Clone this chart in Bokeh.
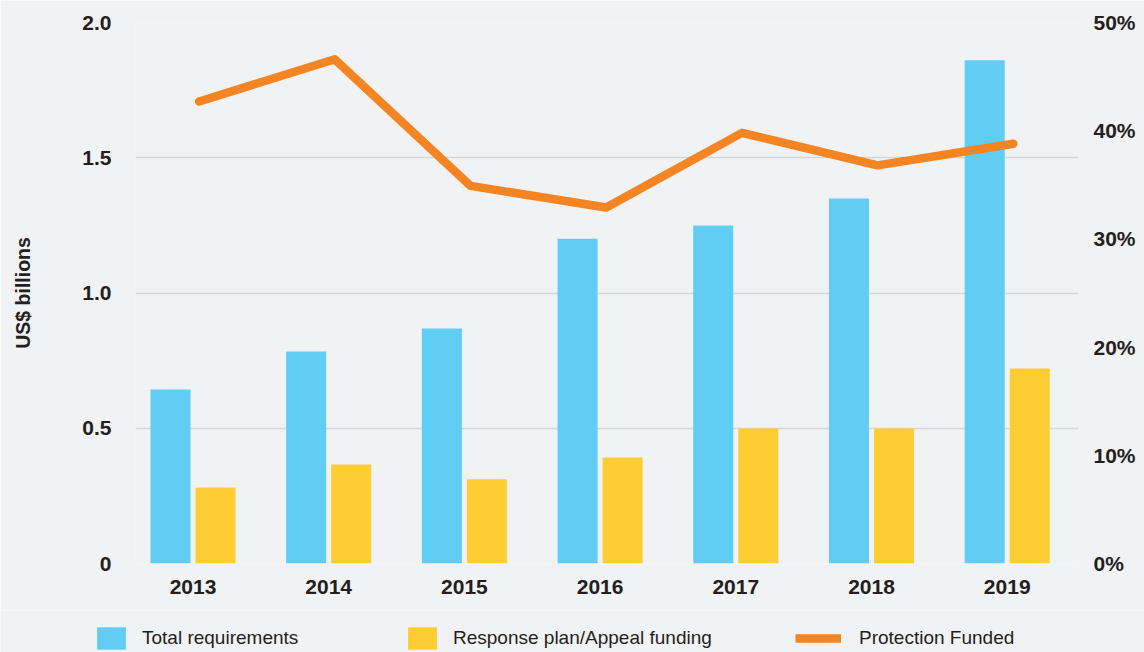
from bokeh.plotting import figure
from bokeh.layouts import column
from bokeh.models import (Range1d, LinearAxis, FixedTicker, PrintfTickFormatter,
                          Legend, LegendItem, ColumnDataSource)
from bokeh.transform import dodge
from bokeh.embed import file_html
from bokeh.resources import INLINE

# ---- data ----
years = ["2013", "2014", "2015", "2016", "2017", "2018", "2019"]
total_requirements = [0.643, 0.784, 0.869, 1.201, 1.250, 1.349, 1.860]
appeal_funding = [0.281, 0.366, 0.311, 0.392, 0.499, 0.499, 0.721]
protection_funded_pct = [42.7, 46.6, 34.9, 32.9, 39.8, 36.8, 38.8]
left_ticks = [0, 0.5, 1.0, 1.5, 2.0]
right_ticks = [0, 10, 20, 30, 40, 50]

# ---- style ----
BG = "#F1F2F4"
BLUE = "#62CDF4"
YELLOW = "#FECD33"
ORANGE = "#F58423"
TEXT = "#231F20"
GRID = "#D5D6D9"
FONT = "Liberation Sans"

src = ColumnDataSource(dict(
    idx=list(range(len(years))),
    total=total_requirements,
    funding=appeal_funding,
    pct=protection_funded_pct,
))

p = figure(width=1144, height=610,
           x_range=Range1d(-0.4237, 6.5254), y_range=Range1d(0, 2.0),
           output_backend="svg", toolbar_location=None,
           min_border_left=135, min_border_right=66,
           min_border_top=22, min_border_bottom=47)
p.frame_align = False
p.background_fill_color = BG
p.border_fill_color = BG
p.outline_line_color = None

p.extra_y_ranges = {"pct": Range1d(0, 50)}

p.vbar(x=dodge("idx", -0.166), top="total", width=0.295, source=src,
       fill_color=BLUE, line_color=None)
p.vbar(x=dodge("idx", 0.166), top="funding", width=0.295, source=src,
       fill_color=YELLOW, line_color=None)
p.line(x=dodge("idx", 0.045), y="pct", source=src, y_range_name="pct",
       line_color=ORANGE, line_width=8.5, line_cap="round", line_join="round")


def style_axis(ax, standoff):
    ax.axis_line_color = None
    ax.major_tick_line_color = None
    ax.minor_tick_line_color = None
    ax.major_tick_out = 0
    ax.major_tick_in = 0
    ax.minor_tick_out = 0
    ax.minor_tick_in = 0
    ax.major_label_standoff = standoff
    ax.major_label_text_font = FONT
    ax.major_label_text_font_style = "bold"
    ax.major_label_text_font_size = "21px"
    ax.major_label_text_color = TEXT


# x axis
xa = p.xaxis[0]
xa.ticker = FixedTicker(ticks=list(range(len(years))))
xa.major_label_overrides = {i: y for i, y in enumerate(years)}
style_axis(xa, 16)

# left axis
ya = p.yaxis[0]
ya.ticker = FixedTicker(ticks=left_ticks)
ya.formatter = PrintfTickFormatter(format="%.1f")
ya.major_label_overrides = {0: "0"}
style_axis(ya, 24)
ya.axis_label = "US$ billions"
ya.axis_label_standoff = 45
ya.axis_label_text_font = FONT
ya.axis_label_text_font_style = "bold"
ya.axis_label_text_font_size = "19.5px"
ya.axis_label_text_color = TEXT

# right axis
ra = LinearAxis(y_range_name="pct", ticker=FixedTicker(ticks=right_ticks),
                formatter=PrintfTickFormatter(format="%d%%"))
style_axis(ra, 15)
p.add_layout(ra, "right")

# grid
p.xgrid.grid_line_color = None
p.ygrid.ticker = FixedTicker(ticks=left_ticks)
p.ygrid.grid_line_color = GRID
p.ygrid.grid_line_width = 1.5

# ---- legend strip (separate figure, renderers kept out of view) ----
lf = figure(width=1144, height=42, x_range=Range1d(-100, -99), y_range=Range1d(-100, -99),
            output_backend="svg", toolbar_location=None, min_border=0,
            x_axis_location=None, y_axis_location=None)
lf.frame_align = False
lf.background_fill_color = BG
lf.border_fill_color = BG
lf.outline_line_color = None
lf.grid.visible = False

lblue = lf.vbar(x="idx", top="total", width=0.295, source=src,
                fill_color=BLUE, line_color=None)
lyellow = lf.vbar(x="idx", top="funding", width=0.295, source=src,
                  fill_color=YELLOW, line_color=None)
lline = lf.line(x="idx", y="pct", source=src, line_color=ORANGE, line_width=8.5)


def add_legend(renderer, label, x, gw, standoff):
    leg = Legend(items=[LegendItem(label=label, renderers=[renderer])],
                 location=(x, 0), glyph_width=gw, glyph_height=28,
                 label_height=28, label_standoff=standoff,
                 padding=0, margin=0, spacing=0,
                 border_line_color=None, background_fill_alpha=0,
                 label_text_font=FONT, label_text_font_size="19px",
                 label_text_color=TEXT)
    lf.add_layout(leg)


add_legend(lblue, "Total requirements", 93, 36, 13)
add_legend(lyellow, "Response plan/Appeal funding", 404, 36, 13)
add_legend(lline, "Protection Funded", 795, 46, 18)

layout = column(p, lf, spacing=0)
open("out.html", "w").write(file_html(layout, INLINE))
